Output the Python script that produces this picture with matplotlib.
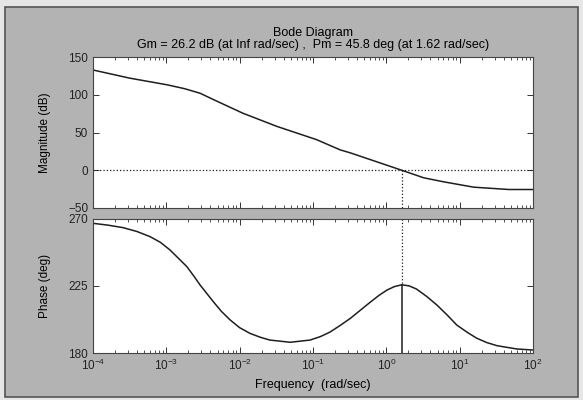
import numpy as np
import matplotlib
matplotlib.use('Agg')
import matplotlib.pyplot as plt
from matplotlib.patches import Rectangle

plt.rcParams['font.family'] = ['Liberation Sans', 'DejaVu Sans']
plt.rcParams['font.size'] = 9

# values
mag_logw = [-4.0, -3.5, -2.98, -2.75, -2.54, -2.3, -1.96, -1.49, -0.95,
            -0.63, -0.49, 0.21, 0.51, 0.78, 1.19, 1.67, 2.0]
mag_db = [132.8, 122.0, 113.0, 108.0, 102.0, 91.0, 75.7, 58.0, 40.5,
          27.0, 23.0, 0.0, -10.0, -15.3, -22.4, -25.5, -25.5]

ph_logw = [-4.0, -3.8, -3.59, -3.4, -3.22, -3.08, -2.95, -2.72, -2.63,
           -2.54, -2.36, -2.25, -2.13, -2.0, -1.86, -1.72, -1.59, -1.31,
           -1.04, -0.9, -0.77, -0.63, -0.49, -0.22, -0.1, 0.01, 0.11,
           0.21, 0.31, 0.41, 0.55, 0.69, 0.83, 0.96, 1.1, 1.23, 1.37,
           1.51, 1.78, 2.0]
ph_deg = [267.1, 265.9, 264.2, 261.6, 258.1, 254.3, 249.2, 238.0, 232.0,
          225.7, 214.5, 208.0, 202.2, 197.0, 193.2, 190.6, 188.7, 187.2,
          188.7, 191.0, 194.0, 198.5, 203.3, 214.1, 218.7, 222.3, 224.6,
          225.8, 225.1, 223.0, 218.0, 212.2, 205.5, 198.8, 194.0, 190.0,
          187.0, 184.9, 182.7, 182.0]

gm_text = 'Gm = 26.2 dB (at Inf rad/sec) ,  Pm = 45.8 deg (at 1.62 rad/sec)'
wc = 1.62
pm_phase = 225.8

mag_w = 10.0 ** np.array(mag_logw)
ph_w = 10.0 ** np.array(ph_logw)

bg = '#b3b3b3'
fig = plt.figure(figsize=(5.83, 4.0), dpi=100)
fig.patch.set_facecolor('#e6e6e6')
fig.patches.append(Rectangle((5 / 583, 3 / 400), 573 / 583, 390 / 400,
                             transform=fig.transFigure, facecolor=bg,
                             edgecolor='#555555', linewidth=1.2, zorder=-5))

ax1 = fig.add_axes([93 / 583, 1 - 208 / 400, 440 / 583, 151 / 400])
ax2 = fig.add_axes([93 / 583, 1 - 353 / 400, 440 / 583, 134 / 400])

lc = '#1e1e1e'
ax1.semilogx(mag_w, mag_db, color=lc, lw=1.1)
ax1.axhline(0, color=lc, ls=':', lw=0.9)
ax1.plot([wc, wc], [0, -50], color=lc, ls=':', lw=0.9)
ax1.set_xlim(1e-4, 1e2)
ax1.set_ylim(-50, 150)
ax1.set_yticks([-50, 0, 50, 100, 150])
ax1.set_xticklabels([])
ax1.set_ylabel('Magnitude (dB)', fontsize=8.5)

ax2.semilogx(ph_w, ph_deg, color=lc, lw=1.1)
ax2.plot([wc, wc], [270, pm_phase], color=lc, ls=':', lw=0.9)
ax2.plot([wc, wc], [180, pm_phase], color=lc, lw=1.1)
ax2.set_xlim(1e-4, 1e2)
ax2.set_ylim(180, 270)
ax2.set_yticks([180, 225, 270])
ax2.set_xticks(10.0 ** np.arange(-4, 3))
ax2.set_ylabel('Phase (deg)', fontsize=8.5)
ax2.set_xlabel('Frequency  (rad/sec)', labelpad=4)

for ax in (ax1, ax2):
    ax.set_facecolor('white')
    ax.tick_params(which='both', direction='in', top=True, right=True,
                   color='#333333', labelcolor='#222222', labelsize=8.5)
    ax.tick_params(which='major', length=4, width=0.7)
    ax.tick_params(which='minor', length=2, width=0.6)
    for s in ax.spines.values():
        s.set_color('#444444')
        s.set_linewidth(0.8)
    ax.yaxis.set_label_coords(-0.095, 0.5)

fig.text(313 / 583, 1 - 33 / 400, 'Bode Diagram', ha='center', va='center')
fig.text(313 / 583, 1 - 45 / 400, gm_text, ha='center', va='center')

fig.savefig('out.png', dpi=100, facecolor=fig.get_facecolor())
